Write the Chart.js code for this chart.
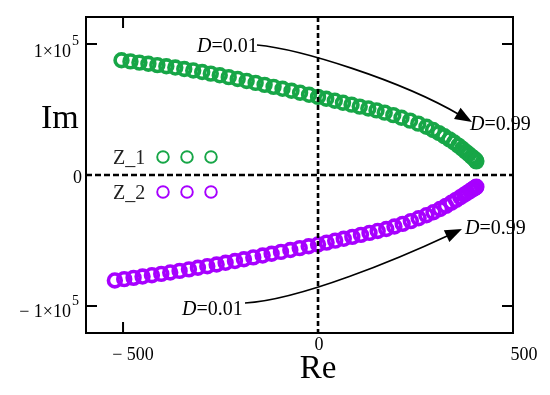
<!DOCTYPE html>
<html>
<head>
<meta charset="utf-8">
<script src="https://cdn.jsdelivr.net/npm/chart.js@4.4.1/dist/chart.umd.min.js"></script>
<style>
  html, body { margin: 0; padding: 0; background: #ffffff; }
  #wrap { width: 550px; height: 395px; }
</style>
</head>
<body>
<div id="wrap"><canvas id="c" width="550" height="395"></canvas></div>
<script>
// ---- data ----
const z1Re = [-504,-481,-458,-435,-412,-389,-366,-343,-320,-297,-275,-252,-229,-206,-183,-160,-137,-114,-91,-68,-46,-23,0,21,43,64,86,107,129,150,171,193,214,236,257,278,295,310,324,337,349,360,370,379,387,394,399,403,405,406];
const z1Im = [87600,86700,85800,84900,83900,83000,82000,80900,79800,78600,77400,76100,74700,73300,71800,70300,68800,67300,65800,64300,62800,61200,59600,58200,56700,55200,53700,52200,50800,49300,47600,45700,43700,41500,39200,36800,34400,32000,29600,27200,24800,22400,20000,17800,15800,14000,12800,11800,11000,10400];
const z2Re = [-521,-497,-473,-450,-426,-402,-379,-355,-331,-308,-284,-260,-237,-213,-190,-166,-142,-119,-95,-71,-47,-24,0,22,44,66,88,110,132,153,175,196,217,238,258,278,296,313,328,342,354,365,375,383,390,396,400,403,405,406];
const z2Im = [-80500,-79500,-78500,-77500,-76500,-75500,-74400,-73200,-72000,-70800,-69600,-68300,-67000,-65700,-64300,-62900,-61500,-60100,-58700,-57300,-55800,-54400,-53000,-51600,-50100,-48700,-47200,-45700,-44200,-42700,-41200,-39300,-37300,-35200,-33000,-30700,-28400,-26000,-23600,-21200,-19000,-17000,-15100,-13500,-12200,-11000,-10200,-9700,-9300,-9000];
const seriesNames = ["Z_1", "Z_2"];
const xTicks = [-500, 0, 500];
const xTickLabels = ["\u2212 500", "0", "500"];
const yTicks = [100000, 0, -100000];
const yTickLabels = ["1\u00d710", "0", "\u2212 1\u00d710"];
const yTickSup = ["5", "", "5"];
const xTitle = "Re";
const yTitle = "Im";

const GREEN = "#17a647";
const PURPLE = "#a700ff";
const SERIF = "'Liberation Serif', 'DejaVu Serif', serif";

function pts(xs, ys) { return xs.map((x, i) => ({ x: x, y: ys[i] })); }

function arrow(ctx, p0, c1, c2, p3) {
  ctx.save();
  ctx.strokeStyle = "#000";
  ctx.fillStyle = "#000";
  ctx.lineWidth = 1.6;
  const ang = Math.atan2(p3[1] - c2[1], p3[0] - c2[0]);
  const L = 17, W = 6.5;
  const bx = p3[0] - L * Math.cos(ang), by = p3[1] - L * Math.sin(ang);
  ctx.beginPath();
  ctx.moveTo(p0[0], p0[1]);
  ctx.bezierCurveTo(c1[0], c1[1], c2[0], c2[1], bx + 3 * Math.cos(ang), by + 3 * Math.sin(ang));
  ctx.stroke();
  ctx.beginPath();
  ctx.moveTo(p3[0], p3[1]);
  ctx.lineTo(bx - W * Math.sin(ang), by + W * Math.cos(ang));
  ctx.lineTo(bx + W * Math.sin(ang), by - W * Math.cos(ang));
  ctx.closePath();
  ctx.fill();
  ctx.restore();
}

function dLabel(ctx, x, baseline, val) {
  ctx.save();
  ctx.fillStyle = "#000";
  ctx.textAlign = "left";
  ctx.textBaseline = "alphabetic";
  ctx.font = "italic 20px " + SERIF;
  ctx.fillText("D", x, baseline);
  const w = ctx.measureText("D").width;
  ctx.font = "20px " + SERIF;
  ctx.fillText("=" + val, x + w, baseline);
  ctx.restore();
}

const decor = {
  id: "decor",
  afterDatasetsDraw(chart) {
    const ctx = chart.ctx, a = chart.chartArea;
    const xs = chart.scales.x, ys = chart.scales.y;
    const x0 = xs.getPixelForValue(0), y0 = ys.getPixelForValue(0);
    ctx.save();
    ctx.strokeStyle = "#000";
    ctx.lineWidth = 2.6;
    ctx.setLineDash([6, 3]);
    ctx.beginPath();
    ctx.moveTo(a.left, y0); ctx.lineTo(a.right, y0);
    ctx.stroke();
    ctx.setLineDash([5, 3]);
    ctx.beginPath();
    ctx.moveTo(x0, a.top); ctx.lineTo(x0, a.bottom);
    ctx.stroke();
    ctx.restore();
  },
  afterDraw(chart) {
    const ctx = chart.ctx, a = chart.chartArea;
    const xs = chart.scales.x, ys = chart.scales.y;
    ctx.save();
    // frame
    ctx.strokeStyle = "#000";
    ctx.lineWidth = 2;
    ctx.strokeRect(a.left, a.top, a.right - a.left, a.bottom - a.top);
    // ticks
    const TL = 11;
    ctx.beginPath();
    yTicks.forEach(v => {
      if (v === 0) return;
      const p = ys.getPixelForValue(v);
      ctx.moveTo(a.left, p); ctx.lineTo(a.left + TL, p);
      ctx.moveTo(a.right, p); ctx.lineTo(a.right - TL, p);
    });
    xTicks.forEach(v => {
      if (v === 0 || v === 500) return;
      const p = xs.getPixelForValue(v);
      ctx.moveTo(p, a.bottom); ctx.lineTo(p, a.bottom - TL);
      ctx.moveTo(p, a.top); ctx.lineTo(p, a.top + TL);
    });
    ctx.stroke();

    // y tick labels
    ctx.fillStyle = "#000";
    ctx.textBaseline = "alphabetic";
    yTicks.forEach((v, i) => {
      const p = ys.getPixelForValue(v);
      if (yTickSup[i]) {
        ctx.font = "18px " + SERIF;
        ctx.textAlign = "right";
        const base = p + (v > 0 ? 13 : 11);
        ctx.fillText(yTickLabels[i], a.left - 15, base);
        ctx.font = "14px " + SERIF;
        ctx.textAlign = "left";
        ctx.fillText(yTickSup[i], a.left - 14, base - 12);
      } else {
        ctx.font = "18px " + SERIF;
        ctx.textAlign = "right";
        ctx.fillText(yTickLabels[i], a.left - 4, p + 8);
      }
    });
    // x tick labels
    ctx.font = "18px " + SERIF;
    ctx.textAlign = "center";
    const xOff = [10, 1, 11];
    const xBase = [27, 17, 27];
    xTicks.forEach((v, i) => {
      const p = xs.getPixelForValue(v);
      ctx.fillText(xTickLabels[i], p + xOff[i], a.bottom + xBase[i]);
    });

    // axis titles
    ctx.font = "34px " + SERIF;
    ctx.textAlign = "left";
    ctx.fillText(yTitle, 41, 128);
    ctx.font = "33px " + SERIF;
    ctx.textAlign = "center";
    ctx.fillText(xTitle, xs.getPixelForValue(0), a.bottom + 45);

    // legend
    const legY = [157, 192];
    const legColors = [GREEN, PURPLE];
    const legX = [163, 187, 211];
    seriesNames.forEach((n, i) => {
      ctx.font = "20px " + SERIF;
      ctx.textAlign = "left";
      ctx.fillStyle = "#222";
      ctx.fillText(n, 113, legY[i] + 7);
      ctx.strokeStyle = legColors[i];
      ctx.lineWidth = 1.9;
      legX.forEach(lx => {
        ctx.beginPath();
        ctx.arc(lx, legY[i], 5.8, 0, Math.PI * 2);
        ctx.stroke();
      });
    });
    ctx.restore();

    // annotations
    dLabel(ctx, 197, 52, "0.01");
    arrow(ctx, [257, 45], [300, 49], [400, 80], [472, 122]);
    dLabel(ctx, 470, 130, "0.99");

    dLabel(ctx, 182, 315, "0.01");
    arrow(ctx, [245, 303], [300, 300], [400, 258], [462, 229]);
    dLabel(ctx, 465, 234, "0.99");
  }
};

new Chart(document.getElementById("c"), {
  type: "scatter",
  data: {
    datasets: [
      { label: seriesNames[0], data: pts(z1Re, z1Im), borderColor: GREEN, backgroundColor: "rgba(0,0,0,0)", pointRadius: 6.4, pointBorderWidth: 3.6, showLine: false },
      { label: seriesNames[1], data: pts(z2Re, z2Im), borderColor: PURPLE, backgroundColor: "rgba(0,0,0,0)", pointRadius: 6.4, pointBorderWidth: 3.6, showLine: false }
    ]
  },
  options: {
    responsive: false,
    animation: false,
    devicePixelRatio: 1,
    layout: { padding: { left: 86, right: 37, top: 17, bottom: 62 } },
    plugins: { legend: { display: false }, tooltip: { enabled: false } },
    scales: {
      x: { type: "linear", min: -595, max: 500, display: false },
      y: { type: "linear", min: -120600, max: 120600, display: false }
    }
  },
  plugins: [decor]
});
</script>
</body>
</html>
